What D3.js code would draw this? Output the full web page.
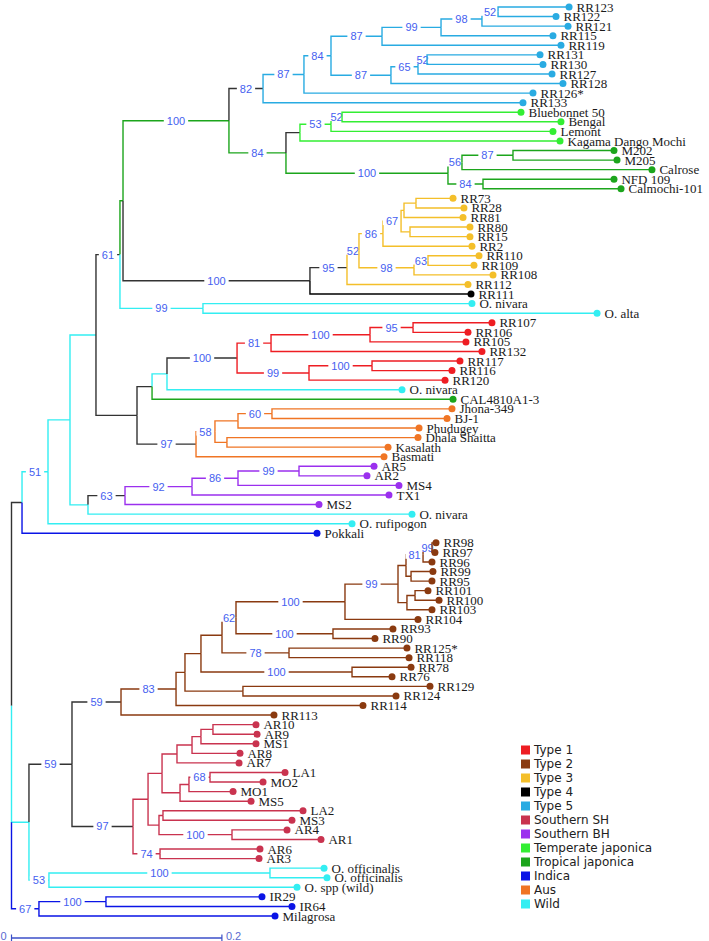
<!DOCTYPE html>
<html><head><meta charset="utf-8">
<script src="https://cdn.jsdelivr.net/npm/d3@7"></script>
<style>body{margin:0;background:#fff}svg{display:block}</style>
</head><body>
<svg id="chart" width="709" height="941"></svg>
<script>
// ---- legend groups ----
const groupKeys   = ["T1","T2","T3","T4","T5","SH","BH","TeJ","TrJ","Ind","Aus","Wild"];
const groupLabels = ["Type 1","Type 2","Type 3","Type 4","Type 5","Southern SH","Southern BH","Temperate japonica","Tropical japonica","Indica","Aus","Wild"];
const groupColors = ["#ee1d23","#8a3a10","#f4bf2a","#000000","#29abe2","#c9334f","#9b30ee","#33ee33","#1ca51c","#0a14e6","#f07524","#33eef2"];
const mixedColor = "#333333";

// ---- internal nodes: [id, parent, distance from root, bootstrap, branch group] ----
const internalNodes = [
  ["R", null, 0, null, null],
  ["S","R",0.0100,null,"Mix"],
  ["T","S",0.0347,51,"Wild"],
  ["T1","T",0.0556,null,"Wild"],
  ["T2","T1",0.0803,null,"Wild"],
  ["U61","T2",0.1031,61,"Mix"],
  ["U2","U61",0.1060,null,"TrJ"],
  ["K","U2",0.2067,100,"TrJ"],
  ["J","K",0.2391,82,"Mix"],
  ["I","J",0.2780,87,"T5"],
  ["E","I",0.3037,84,"T5"],
  ["D","E",0.3522,87,"T5"],
  ["C","D",0.4083,99,"T5"],
  ["B","C",0.4472,98,"T5"],
  ["A","B",0.4625,52,"T5"],
  ["F","E",0.3607,87,"T5"],
  ["G","F",0.3864,65,"T5"],
  ["H","G",0.3950,52,"T5"],
  ["L","K",0.2609,84,"TrJ"],
  ["M","L",0.2742,null,"Mix"],
  ["O","M",0.3037,53,"TeJ"],
  ["P","O",0.3142,52,"TeJ"],
  ["N","L",0.4149,100,"TrJ"],
  ["N56","N",0.4282,56,"TrJ"],
  ["N87","N56",0.4767,87,"TrJ"],
  ["N84","N",0.4482,84,"TrJ"],
  ["B100","U2",0.2837,100,"Mix"],
  ["Y95","B100",0.3189,95,"Mix"],
  ["Y52","Y95",0.3303,52,"T3"],
  ["Y86","Y52",0.3531,86,"T3"],
  ["Y67","Y86",0.3703,67,"T3"],
  ["Ya","Y67",0.3731,null,"T3"],
  ["Yaa","Ya",0.3845,null,"T3"],
  ["Yb","Y67",0.3788,null,"T3"],
  ["Y98","Y52",0.3826,98,"T3"],
  ["Y63","Y98",0.3959,63,"T3"],
  ["W99","U61",0.1820,99,"Wild"],
  ["V","T2",0.1193,null,"Mix"],
  ["V1","V",0.1336,null,"Mix"],
  ["V2","V1",0.1478,null,"Wild"],
  ["R100","V2",0.2144,100,"Mix"],
  ["R81","R100",0.2467,81,"T1"],
  ["R100b","R81",0.3408,100,"T1"],
  ["R95","R100b",0.3817,95,"T1"],
  ["R99","R100",0.2828,99,"T1"],
  ["R100c","R99",0.3427,100,"T1"],
  ["A97","V",0.1754,97,"Mix"],
  ["A58a","A97",0.1934,58,"Aus"],
  ["A60p","A58a",0.2153,null,"Aus"],
  ["A60","A60p",0.2476,60,"Aus"],
  ["ADK","A58a",0.2048,null,"Aus"],
  ["Z","T1",0.0727,null,"Wild"],
  ["P63","Z",0.1079,63,"Mix"],
  ["P92","P63",0.1716,92,"BH"],
  ["P86","P92",0.2153,86,"BH"],
  ["P99","P86",0.2733,99,"BH"],
  ["LV","R",0.0166,null,"Wild"],
  ["W59","LV",0.0575,59,"Mix"],
  ["Br59","W59",0.1041,59,"Mix"],
  ["Br83","Br59",0.1564,83,"T2"],
  ["Br83a","Br83",0.1649,null,"T2"],
  ["Br83b","Br83a",0.1801,null,"T2"],
  ["Br62p","Br83b",0.2001,null,"T2"],
  ["Br62","Br62p",0.2134,62,"T2"],
  ["Br100a","Br62",0.3170,100,"T2"],
  ["Br99","Br100a",0.3674,99,"T2"],
  ["Q81p","Br99",0.3750,null,"T2"],
  ["Q","Q81p",0.3912,81,"T2"],
  ["Q99","Q",0.3997,99,"T2"],
  ["Q9995","Q81p",0.3798,null,"T2"],
  ["Qlow","Br99",0.3759,null,"T2"],
  ["Q101","Qlow",0.3836,null,"T2"],
  ["Br100b","Br62",0.3056,100,"T2"],
  ["Br78","Br62p",0.2638,78,"T2"],
  ["Br100d","Br83b",0.3237,100,"T2"],
  ["Br129","Br83a",0.2200,null,"T2"],
  ["SH97","W59",0.1155,97,"Mix"],
  ["SHa","SH97",0.1298,null,"SH"],
  ["SHb","SHa",0.1431,null,"SH"],
  ["SHd","SHb",0.1573,null,"SH"],
  ["SHf","SHd",0.1716,null,"SH"],
  ["SHg","SHf",0.1801,null,"SH"],
  ["SHh","SHg",0.1915,null,"SH"],
  ["SHe","SHb",0.1602,null,"SH"],
  ["SH68p","SHe",0.1687,null,"SH"],
  ["SH68","SH68p",0.1887,68,"SH"],
  ["SHc","SHa",0.1402,null,"SH"],
  ["SHi","SHc",0.1440,null,"SH"],
  ["SH100","SHc",0.2096,100,"SH"],
  ["SH74","SH97",0.1412,74,"SH"],
  ["X53","LV",0.0356,53,"Wild"],
  ["X100","X53",0.2457,100,"Wild"],
  ["I67","R",0.0261,67,"Ind"],
  ["I100","I67",0.0898,100,"Ind"]
];

// ---- tips, top to bottom: [name, parent, distance from root, group] ----
const tips = [
  ["RR123","A",0.5300,"T5"],["RR122","A",0.5176,"T5"],["RR121","B",0.5290,"T5"],
  ["RR115","C",0.5147,"T5"],["RR119","D",0.5223,"T5"],["RR131","H",0.5024,"T5"],
  ["RR130","H",0.5052,"T5"],["RR127","G",0.5138,"T5"],["RR128","F",0.5242,"T5"],
  ["RR126*","I",0.4957,"T5"],["RR133","J",0.4862,"T5"],
  ["Bluebonnet 50","P",0.4843,"TeJ"],["Bengal","P",0.5223,"TeJ"],["Lemont","O",0.5147,"TeJ"],
  ["Kagama Dango Mochi","M",0.5214,"TeJ"],
  ["M202","N87",0.5727,"TrJ"],["M205","N87",0.5756,"TrJ"],["Calrose","N56",0.6088,"TrJ"],
  ["NFD 109","N84",0.5727,"TrJ"],["Calmochi-101","N84",0.5794,"TrJ"],
  ["RR73","Yaa",0.4197,"T3"],["RR28","Yaa",0.4301,"T3"],["RR81","Ya",0.4292,"T3"],
  ["RR80","Yb",0.4358,"T3"],["RR15","Yb",0.4358,"T3"],["RR2","Y86",0.4377,"T3"],
  ["RR110","Y63",0.4444,"T3"],["RR109","Y63",0.4396,"T3"],["RR108","Y98",0.4577,"T3"],
  ["RR112","Y95",0.4339,"T3"],["RR111","B100",0.4368,"T4"],
  ["O. nivara","W99",0.4377,"Wild"],["O. alta","W99",0.5566,"Wild"],
  ["RR107","R95",0.4567,"T1"],["RR106","R95",0.4339,"T1"],["RR105","R100b",0.4320,"T1"],
  ["RR132","R81",0.4472,"T1"],["RR117","R100c",0.4263,"T1"],["RR116","R100c",0.4187,"T1"],
  ["RR120","R99",0.4121,"T1"],
  ["O. nivara","V2",0.3712,"Wild"],["CAL4810A1-3","V1",0.4197,"TrJ"],
  ["Jhona-349","A60",0.4187,"Aus"],["BJ-1","A60",0.4140,"Aus"],["Phudugey","A60p",0.3874,"Aus"],
  ["Dhala Shaitta","ADK",0.3864,"Aus"],["Kasalath","ADK",0.3579,"Aus"],["Basmati","A97",0.3541,"Aus"],
  ["AR5","P99",0.3446,"BH"],["AR2","P99",0.3379,"BH"],["MS4","P86",0.3683,"BH"],
  ["TX1","P92",0.3588,"BH"],["MS2","P63",0.2923,"BH"],
  ["O. nivara","Z",0.3807,"Wild"],["O. rufipogon","T",0.3237,"Wild"],["Pokkali","S",0.2904,"Ind"],
  ["RR98","Q99",0.4035,"T2"],["RR97","Q99",0.4025,"T2"],["RR96","Q",0.3997,"T2"],
  ["RR99","Q9995",0.4006,"T2"],["RR95","Q9995",0.3997,"T2"],["RR101","Q101",0.3959,"T2"],
  ["RR100","Q101",0.4064,"T2"],["RR103","Qlow",0.3997,"T2"],["RR104","Br100a",0.3864,"T2"],
  ["RR93","Br100b",0.3626,"T2"],["RR90","Br100b",0.3455,"T2"],["RR125*","Br78",0.3759,"T2"],
  ["RR118","Br78",0.3779,"T2"],["RR78","Br100d",0.3798,"T2"],["RR76","Br100d",0.3617,"T2"],
  ["RR129","Br129",0.3978,"T2"],["RR124","Br129",0.3655,"T2"],["RR114","Br83",0.3341,"T2"],
  ["RR113","Br59",0.2495,"T2"],
  ["AR10","SHh",0.2324,"SH"],["AR9","SHh",0.2334,"SH"],["MS1","SHg",0.2324,"SH"],
  ["AR8","SHf",0.2172,"SH"],["AR7","SHd",0.2163,"SH"],["LA1","SH68",0.2600,"SH"],
  ["MO2","SH68",0.2391,"SH"],["MO1","SH68p",0.2106,"SH"],["MS5","SHe",0.2277,"SH"],
  ["LA2","SHi",0.2771,"SH"],["MS3","SHi",0.2666,"SH"],["AR4","SH100",0.2619,"SH"],
  ["AR1","SH100",0.2942,"SH"],["AR6","SH74",0.2362,"SH"],["AR3","SH74",0.2353,"SH"],
  ["O. officinalis","X100",0.2971,"Wild"],["O. officinalis","X100",0.2999,"Wild"],
  ["O. spp (wild)","X53",0.2714,"Wild"],
  ["IR29","I100",0.2381,"Ind"],["IR64","I100",0.2666,"Ind"],["Milagrosa","I67",0.2505,"Ind"]
];

const scaleBarTicks = [0, 0.2];
const scaleBarLabels = ["0", "0.2"];

// ---- build ----
const color = d3.scaleOrdinal().domain(groupKeys).range(groupColors).unknown(mixedColor);
const records = internalNodes.map(r => ({id:r[0], parent:r[1], dist:r[2], support:r[3], group:r[4]}))
  .concat(tips.map((r,i) => ({id:"t"+i, parent:r[1], dist:r[2], support:null, group:r[3], name:r[0], idx:i})));
const root = d3.stratify().id(d => d.id).parentId(d => d.parent)(records);

const x = d3.scaleLinear().domain([0, 0.2]).range([11.5, 221.9]);
const y = d3.scaleLinear().domain([0, tips.length - 1]).range([7, 916]);

root.eachAfter(n => {
  n.px = x(n.data.dist);
  if (!n.children) n.py = y(n.data.idx);
  else { const ys = n.children.map(c => c.py); n.py = (d3.min(ys) + d3.max(ys)) / 2; }
});

const svg = d3.select("#chart");
const gTree = svg.append("g");
const order = [];
root.eachBefore(n => { if (n.parent) order.push(n); });

order.forEach(n => {
  const p = n.parent;
  let y0 = p.py;
  p.children.forEach(s => {
    if (s !== n && Math.sign(s.py - p.py) === Math.sign(n.py - p.py) &&
        Math.abs(s.py - p.py) < Math.abs(n.py - p.py) &&
        Math.abs(s.py - p.py) > Math.abs(y0 - p.py)) y0 = s.py;
  });
  gTree.append("path")
    .attr("d", `M${p.px},${y0}V${n.py}H${n.px}`)
    .attr("fill", "none")
    .attr("stroke", n.data.group === "Mix" ? mixedColor : color(n.data.group))
    .attr("stroke-width", 1.4);
  if (n.data.support != null) {
    const g = gTree.append("g");
    const r = g.append("rect").attr("fill", "#fff");
    const t = g.append("text")
      .attr("x", (p.px + n.px) / 2).attr("y", n.py)
      .attr("text-anchor", "middle").attr("dy", "0.36em")
      .attr("font-family", "Liberation Sans, Arial, sans-serif")
      .attr("font-size", 11).attr("fill", "#4560f0")
      .text(n.data.support);
    const bb = t.node().getBBox();
    r.attr("x", bb.x - 3).attr("y", n.py - 4).attr("width", bb.width + 6).attr("height", 8);
  }
});

// tips
const leaves = root.leaves();
const gTips = svg.append("g");
gTips.selectAll("circle").data(leaves).join("circle")
  .attr("cx", d => d.px).attr("cy", d => d.py).attr("r", 3.5)
  .attr("fill", d => color(d.data.group));
gTips.selectAll("text").data(leaves).join("text")
  .attr("x", d => d.px + 7.5).attr("y", d => d.py).attr("dy", "0.35em")
  .attr("font-family", "Liberation Serif, Times New Roman, serif")
  .attr("font-size", 13).attr("fill", "#1a1a1a")
  .text(d => d.data.name);

// legend
const legY = d3.scalePoint().domain(groupLabels).range([750, 904]);
const gLeg = svg.append("g");
groupLabels.forEach((lab, i) => {
  gLeg.append("rect").attr("x", 521).attr("y", legY(lab) - 4.5).attr("width", 9).attr("height", 9)
    .attr("fill", groupColors[i]);
  gLeg.append("text").attr("x", 534).attr("y", legY(lab)).attr("dy", "0.36em")
    .attr("font-family", "DejaVu Sans, Verdana, sans-serif").attr("font-size", 12)
    .attr("fill", "#222").text(lab);
});

// scale bar
const sb = svg.append("g").attr("stroke", "#3b4fc8");
sb.append("line").attr("x1", x(scaleBarTicks[0])).attr("x2", x(scaleBarTicks[1]))
  .attr("y1", 938).attr("y2", 938).attr("stroke-width", 1.4);
scaleBarTicks.forEach(v => sb.append("line").attr("x1", x(v)).attr("x2", x(v))
  .attr("y1", 934.5).attr("y2", 941).attr("stroke-width", 1.2));
svg.append("text").attr("x", x(0) - 5).attr("y", 937).attr("dy", "0.3em").attr("text-anchor", "end")
  .attr("font-family", "Liberation Sans, Arial, sans-serif").attr("font-size", 11).attr("fill", "#5a6ad0")
  .text(scaleBarLabels[0]);
svg.append("text").attr("x", x(0.2) + 4).attr("y", 937).attr("dy", "0.3em")
  .attr("font-family", "Liberation Sans, Arial, sans-serif").attr("font-size", 11).attr("fill", "#5a6ad0")
  .text(scaleBarLabels[1]);
</script>
</body></html>
